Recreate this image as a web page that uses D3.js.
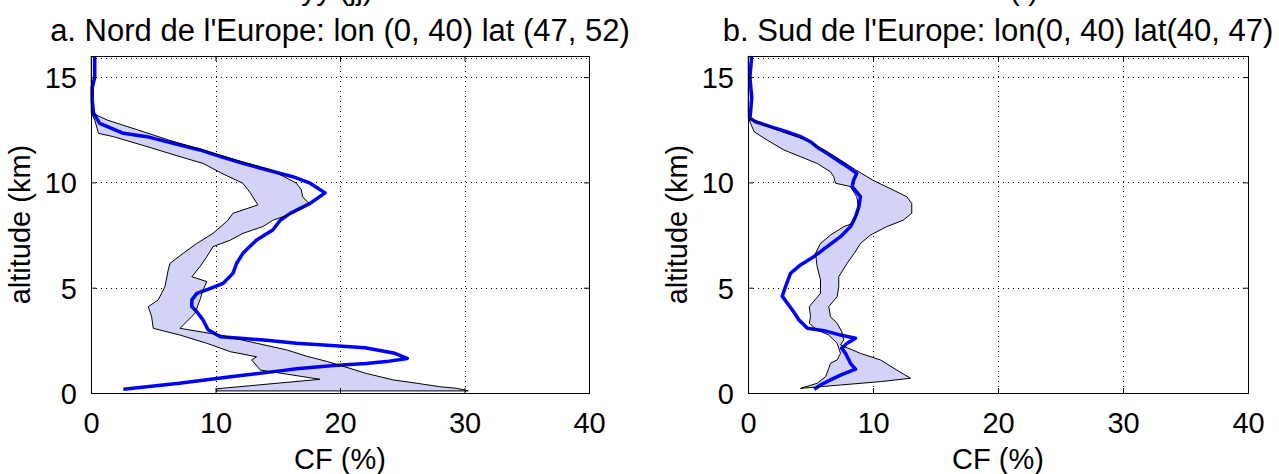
<!DOCTYPE html>
<html><head><meta charset="utf-8">
<script src="https://cdn.jsdelivr.net/npm/d3@7"></script>
<style>
body{margin:0;background:#fff}
svg{display:block}
text{font-family:"Liberation Sans",Arial,Helvetica,sans-serif;fill:#000}
</style>
</head><body>
<svg id="chart" width="1279" height="474"></svg>
<script>
// ---------- data ----------
const xTicks = [0, 10, 20, 30, 40];
const yTicks = [0, 5, 10, 15];
const xDomain = [0, 40];
const yDomain = [0, 16];
const titleA = "a. Nord de l'Europe: lon (0, 40) lat (47, 52)";
const titleB = "b. Sud de l'Europe: lon(0, 40) lat(40, 47)";
const xLabel = "CF (%)";
const yLabel = "altitude (km)";

// Panel a : blue profile
const aBlueAlt = [16,15,14.5,13.9,13.3,12.8,12.33,12.17,11.85,11.54,11.22,10.9,10.6,10.27,9.96,9.5,9.0,8.53,8.2,7.74,7.26,6.63,6.16,5.68,5.2,4.97,4.73,4.42,4.1,3.86,3.47,3.0,2.67,2.6,2.5,2.36,2.25,2.15,1.9,1.64,1.49,1.4,1.3,1.15,1.05,0.77,0.46,0.18];
const aBlueCF  = [0.3,0.3,0.1,0.1,0.2,0.7,2.6,4.5,6.6,8.75,10.4,12.2,14.1,16.2,17.6,18.8,17.6,16.0,15.2,14.6,13.3,12.2,11.7,11.4,10.6,9.6,8.5,8.1,8.1,8.5,9.0,9.4,10.4,12.0,14.1,16.5,19.3,22.0,24.3,25.4,23.7,22.1,19.5,16.5,15.2,11.2,7.1,2.6];
// Panel a : band upper edge (right boundary)
const aHiAlt = [16,13.3,12.96,12.5,12.0,11.54,11.06,10.6,10.3,9.96,9.64,9.32,9.0,8.53,8.2,7.9,7.58,7.26,6.95,6.47,6.0,5.52,5.29,4.89,4.42,3.78,3.07,2.75,2.4,2.05,1.75,1.49,1.17,0.93,0.62,0.46,0.3,0.22,0.1];
const aHiCF  = [0.05,0.05,1.3,3.7,6.3,9.0,11.7,14.4,15.4,16.5,16.9,17.0,17.5,16.2,14.6,13.8,12.2,11.2,9.8,9.3,8.75,8.1,9.3,9.0,8.75,8.35,7.15,10.4,13.0,15.7,17.3,19.0,20.8,22.1,24.3,26.2,28.0,29.4,30.3];
// Panel a : band lower edge (left boundary)
const aLoAlt = [16,13.3,12.96,12.33,12.17,11.7,11.22,10.9,10.4,9.96,9.5,8.93,8.53,8.2,7.58,7.1,6.63,6.16,5.84,5.05,4.42,4.1,3.62,3.07,2.75,2.36,1.96,1.72,1.57,1.09,0.65,0.2,0.1];
const aLoCF  = [0.02,0.02,0.3,0.6,1.8,4.5,7.15,9.0,10.6,12.2,12.8,13.4,11.4,11.0,9.8,8.5,7.4,6.35,6.2,5.94,5.4,4.6,4.87,5.0,7.15,9.3,11.2,13.3,12.9,13.6,18.4,10.1,10.1];

// Panel b : blue profile
const bBlueAlt = [16,15,14,13.3,13.04,12.88,12.65,12.4,12.17,11.93,11.62,11.38,11.06,10.75,10.43,10.1,9.8,9.32,8.85,8.37,7.9,7.42,6.95,6.47,6.08,5.68,5.05,4.6,4.26,3.94,3.47,3.07,2.96,2.75,2.6,2.36,2.12,1.88,1.41,1.13,0.85,0.62,0.38,0.18];
const bBlueCF  = [0.3,0.15,0.3,0.2,0.15,0.6,1.8,3.15,4.2,5.0,5.66,6.33,7.13,7.93,8.7,8.45,8.33,9.0,8.87,8.6,8.2,7.4,6.33,5.26,4.2,3.4,3.0,2.74,3.15,3.55,4.08,4.75,6.08,7.4,8.6,7.93,7.5,7.8,8.2,8.6,7.4,6.6,5.8,5.3];
// Panel b : band upper edge
const bHiAlt = [16,13.1,12.96,12.49,12.0,11.54,11.06,10.6,10.1,9.64,9.32,9.0,8.53,8.2,7.9,7.5,7.1,6.63,6.16,5.52,5.05,4.57,4.1,3.62,3.31,2.91,2.52,2.28,1.88,1.57,1.09,0.7,0.54,0.38,0.22];
const bHiCF  = [0.05,0.05,0.35,2.3,4.7,6.1,7.4,8.6,10.0,11.6,12.7,13.1,13.1,12.4,11.1,9.8,9.0,8.5,7.93,7.26,7.26,7.13,6.46,6.6,7.13,7.5,7.66,7.4,9.0,10.6,11.9,13.0,10.6,7.4,4.2];
// Panel b : band lower edge
const bLoAlt = [16,13.1,12.8,12.4,12.0,11.54,11.22,10.9,10.5,10.27,9.96,9.8,9.32,8.69,8.06,7.9,7.5,7.1,6.63,6.0,5.37,4.73,4.1,3.62,3.31,2.99,2.75,2.36,1.88,1.57,1.41,1.17,0.77,0.46,0.22];
const bLoCF  = [0.02,0.02,0.2,0.5,1.55,2.87,4.2,5.53,6.6,6.86,7.0,8.2,8.7,8.87,8.45,7.66,6.6,5.8,5.4,5.53,5.8,5.8,4.9,5.0,4.9,5.53,6.46,7.13,7.4,7.13,6.6,6.46,6.2,5.53,4.2];

// fragments of a cropped line above the titles
const topFragA = "yy (jj)";
const topFragB = "(   )";

// ---------- layout ----------
const svg = d3.select("#chart");
const plotTop = 56, plotBottom = 393;
const panels = [
  {left: 91, right: 589, title: titleA, frag: topFragA, fragX: 337,
   blueAlt: aBlueAlt, blueCF: aBlueCF, hiAlt: aHiAlt, hiCF: aHiCF, loAlt: aLoAlt, loCF: aLoCF},
  {left: 748, right: 1248, title: titleB, frag: topFragB, fragX: 1024,
   blueAlt: bBlueAlt, blueCF: bBlueCF, hiAlt: bHiAlt, hiCF: bHiCF, loAlt: bLoAlt, loCF: bLoCF}
];

const zip = (alt, cf) => alt.map((a, i) => [cf[i], a]);

panels.forEach(p => {
  const x = d3.scaleLinear().domain(xDomain).range([p.left, p.right]);
  const y = d3.scaleLinear().domain(yDomain).range([plotBottom, plotTop]);
  const g = svg.append("g");

  // grid (dotted)
  const grid = g.append("g").attr("stroke", "#000").attr("stroke-width", 1)
    .attr("stroke-dasharray", "1,4").attr("fill", "none");
  xTicks.filter(t => t > xDomain[0] && t < xDomain[1]).forEach(t => {
    grid.append("line").attr("x1", Math.round(x(t)) + 0.5).attr("x2", Math.round(x(t)) + 0.5)
      .attr("y1", plotTop).attr("y2", plotBottom);
  });
  yTicks.filter(t => t > yDomain[0] && t < yDomain[1]).forEach(t => {
    grid.append("line").attr("y1", Math.round(y(t)) + 0.5).attr("y2", Math.round(y(t)) + 0.5)
      .attr("x1", p.left).attr("x2", p.right);
  });
  grid.append("line").attr("y1", plotTop + 2.5).attr("y2", plotTop + 2.5).attr("x1", p.left).attr("x2", p.right);

  // band polygon
  const hiPts = zip(p.hiAlt, p.hiCF);
  const loPts = zip(p.loAlt, p.loCF).reverse();
  const poly = hiPts.concat(loPts);
  const line = d3.line().x(d => x(d[0])).y(d => y(d[1]));
  g.append("path").attr("d", line(poly) + "Z").attr("fill", "#d3d3f8").attr("stroke", "none");

  // blue profile
  g.append("path").attr("d", line(zip(p.blueAlt, p.blueCF)))
    .attr("fill", "none").attr("stroke", "#0000ff").attr("stroke-width", 3.5)
    .attr("stroke-linejoin", "round");

  // black band edges
  g.append("path").attr("d", line(hiPts)).attr("fill", "none").attr("stroke", "#000").attr("stroke-width", 1);
  g.append("path").attr("d", line(zip(p.loAlt, p.loCF))).attr("fill", "none").attr("stroke", "#000").attr("stroke-width", 1);
  g.append("path").attr("d", line([hiPts[hiPts.length - 1], loPts[0]]))
    .attr("fill", "none").attr("stroke", "#000").attr("stroke-width", 1);

  // axes box + inward ticks
  const xAxisB = d3.axisBottom(x).tickValues(xTicks).tickSize(-5).tickFormat(d3.format("d")).tickPadding(14);
  const xAxisT = d3.axisTop(x).tickValues(xTicks).tickSize(-5).tickFormat("");
  const yAxisL = d3.axisLeft(y).tickValues(yTicks).tickSize(-5).tickFormat(d3.format("d")).tickPadding(14);
  const yAxisR = d3.axisRight(y).tickValues(yTicks).tickSize(-5).tickFormat("");
  const styleAxis = sel => {
    sel.select(".domain").remove();
    sel.selectAll("line").attr("stroke", "#000");
    sel.selectAll("text").attr("font-size", 29).attr("font-family", "Liberation Sans, Arial, sans-serif").attr("fill", "#000");
  };
  g.append("g").attr("transform", `translate(0,${plotBottom})`).call(xAxisB).call(styleAxis)
    .selectAll("text").attr("dy", "0.9em");
  g.append("g").attr("transform", `translate(0,${plotTop})`).call(xAxisT).call(styleAxis);
  g.append("g").attr("transform", `translate(${p.left},0)`).call(yAxisL).call(styleAxis)
    .selectAll("text").attr("dy", "0.36em");
  g.append("g").attr("transform", `translate(${p.right},0)`).call(yAxisR).call(styleAxis);
  g.append("rect").attr("x", p.left + 0.5).attr("y", plotTop + 0.5)
    .attr("width", p.right - p.left).attr("height", plotBottom - plotTop)
    .attr("fill", "none").attr("stroke", "#000").attr("stroke-width", 1);

  // titles and labels
  const cx = (p.left + p.right) / 2;
  g.append("text").attr("x", cx).attr("y", 41).attr("text-anchor", "middle")
    .attr("font-size", 31).text(p.title);
  g.append("text").attr("x", p.fragX).attr("y", 0).attr("text-anchor", "middle")
    .attr("font-size", 30).text(p.frag);
  g.append("text").attr("x", cx).attr("y", 469).attr("text-anchor", "middle")
    .attr("font-size", 29).text(xLabel);
  g.append("text").attr("transform", `translate(${p.left - 61},${(plotTop + plotBottom) / 2}) rotate(-90)`)
    .attr("text-anchor", "middle").attr("font-size", 29).text(yLabel);
});
</script>
</body></html>
